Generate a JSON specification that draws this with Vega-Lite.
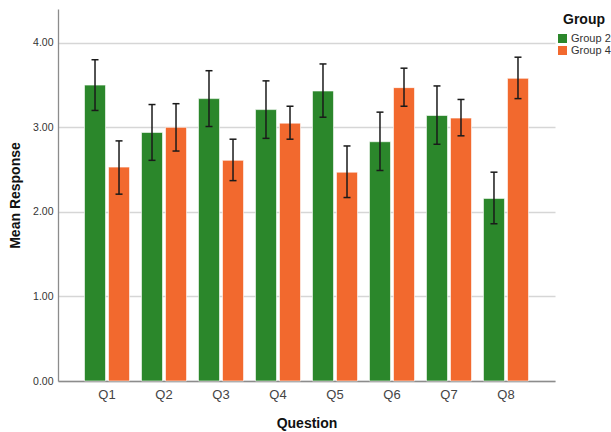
{
  "$schema": "https://vega.github.io/schema/vega-lite/v6.json",
  "width": 497,
  "height": 372,
  "autosize": {"type": "none"},
  "padding": {"left": 58, "top": 9, "right": 56, "bottom": 51},
  "background": "white",
  "config": {"view": {"stroke": null}, "font": "Liberation Sans"},
  "data": {
    "values": [
      {"question": "Q1", "group": "Group 2", "mean": 3.50, "lo": 3.20, "hi": 3.80},
      {"question": "Q1", "group": "Group 4", "mean": 2.53, "lo": 2.21, "hi": 2.84},
      {"question": "Q2", "group": "Group 2", "mean": 2.94, "lo": 2.61, "hi": 3.27},
      {"question": "Q2", "group": "Group 4", "mean": 3.00, "lo": 2.72, "hi": 3.28},
      {"question": "Q3", "group": "Group 2", "mean": 3.34, "lo": 3.01, "hi": 3.67},
      {"question": "Q3", "group": "Group 4", "mean": 2.61, "lo": 2.37, "hi": 2.86},
      {"question": "Q4", "group": "Group 2", "mean": 3.21, "lo": 2.87, "hi": 3.55},
      {"question": "Q4", "group": "Group 4", "mean": 3.05, "lo": 2.86, "hi": 3.25},
      {"question": "Q5", "group": "Group 2", "mean": 3.43, "lo": 3.12, "hi": 3.75},
      {"question": "Q5", "group": "Group 4", "mean": 2.47, "lo": 2.17, "hi": 2.78},
      {"question": "Q6", "group": "Group 2", "mean": 2.83, "lo": 2.49, "hi": 3.18},
      {"question": "Q6", "group": "Group 4", "mean": 3.47, "lo": 3.25, "hi": 3.70},
      {"question": "Q7", "group": "Group 2", "mean": 3.14, "lo": 2.80, "hi": 3.49},
      {"question": "Q7", "group": "Group 4", "mean": 3.11, "lo": 2.90, "hi": 3.33},
      {"question": "Q8", "group": "Group 2", "mean": 2.16, "lo": 1.86, "hi": 2.47},
      {"question": "Q8", "group": "Group 4", "mean": 3.58, "lo": 3.34, "hi": 3.83}
    ]
  },
  "encoding": {
    "x": {
      "field": "question",
      "type": "nominal",
      "scale": {"paddingInner": 0.21, "paddingOuter": 0.465},
      "axis": {
        "title": "Question",
        "titleFontSize": 14,
        "titleFontWeight": "bold",
        "titleColor": "#111",
        "titleBaseline": "middle",
        "titleY": 42,
        "labelAngle": 0,
        "labelFontSize": 13,
        "labelColor": "#444",
        "labelPadding": 7,
        "ticks": false,
        "domainColor": "#8c8c8c",
        "domainWidth": 1.3,
        "grid": false
      }
    },
    "xOffset": {"field": "group", "type": "nominal", "scale": {"paddingInner": 0.125}}
  },
  "layer": [
    {
      "mark": {"type": "bar", "stroke": "white", "strokeOpacity": 0.6, "strokeWidth": 1},
      "encoding": {
        "y": {
          "field": "mean",
          "type": "quantitative",
          "scale": {"domain": [0, 4.4], "nice": false, "zero": true},
          "axis": {
            "title": "Mean Response",
            "titleFontSize": 14,
            "titleFontWeight": "bold",
            "titleColor": "#111",
            "titleX": -43,
            "titleY": 186,
            "titleAlign": "center",
            "titleBaseline": "middle",
            "values": [0, 1, 2, 3, 4],
            "format": ".2f",
            "labelFontSize": 10.5,
            "labelColor": "#333",
            "labelPadding": 5,
            "ticks": false,
            "grid": true,
            "gridColor": "#d6d6d6",
            "gridWidth": 1.5,
            "domainColor": "#8c8c8c",
            "domainWidth": 1.3
          }
        },
        "color": {
          "field": "group",
          "type": "nominal",
          "scale": {"domain": ["Group 2", "Group 4"], "range": ["#2b872b", "#f2692e"]},
          "legend": {
            "orient": "none",
            "legendX": 499,
            "legendY": 4,
            "title": "Group",
            "titleFontSize": 14,
            "titleFontWeight": "bold",
            "titleColor": "#111",
            "titleAnchor": "middle",
            "titlePadding": 6,
            "symbolType": "square",
            "symbolSize": 81,
            "symbolStrokeWidth": 0,
            "symbolOpacity": 1,
            "labelFontSize": 11,
            "labelColor": "#333",
            "labelOffset": 3,
            "rowPadding": 0,
            "padding": 0
          }
        }
      }
    },
    {
      "mark": {"type": "rule", "color": "#1a1a1a", "strokeWidth": 1.5},
      "encoding": {
        "y": {"field": "lo", "type": "quantitative"},
        "y2": {"field": "hi"}
      }
    },
    {
      "mark": {"type": "tick", "color": "#1a1a1a", "thickness": 1.5, "size": 7, "opacity": 1},
      "encoding": {"y": {"field": "lo", "type": "quantitative"}}
    },
    {
      "mark": {"type": "tick", "color": "#1a1a1a", "thickness": 1.5, "size": 7, "opacity": 1},
      "encoding": {"y": {"field": "hi", "type": "quantitative"}}
    }
  ]
}
